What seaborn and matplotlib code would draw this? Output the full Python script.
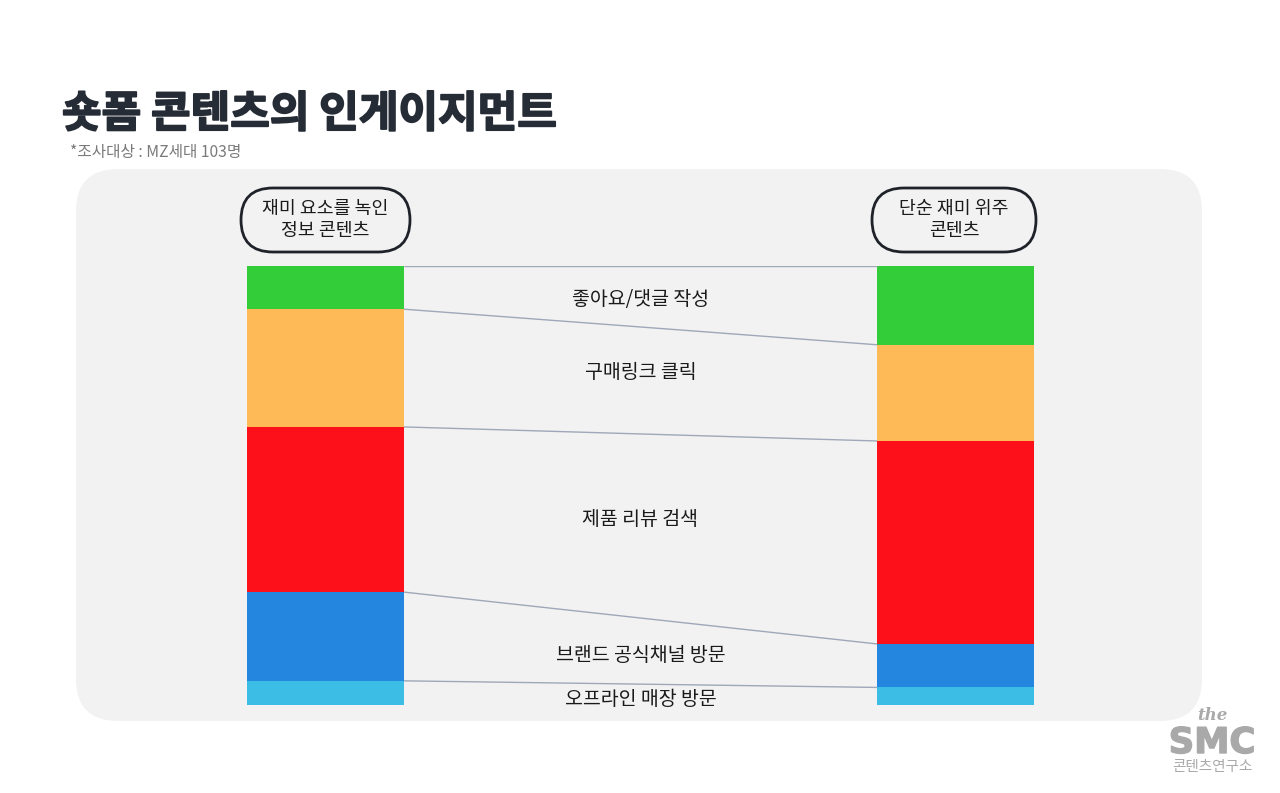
import numpy as np
import pandas as pd
import seaborn as sns
import matplotlib
matplotlib.use("Agg")
import matplotlib.pyplot as plt
import matplotlib.patheffects as pe
from matplotlib.patches import FancyBboxPatch

# ---------------- data ----------------
groups = ["재미 요소를 녹인\n정보 콘텐츠", "단순 재미 위주\n콘텐츠"]
segments = ["좋아요/댓글 작성", "구매링크 클릭", "제품 리뷰 검색", "브랜드 공식채널 방문", "오프라인 매장 방문"]
left_values = [9.9, 26.8, 37.6, 20.2, 5.5]      # 정보 콘텐츠 (%)
right_values = [18.0, 21.9, 46.2, 9.9, 4.0]     # 단순 재미 콘텐츠 (%)
colors = ["#34CD3A", "#FFBA58", "#FD101A", "#2486DF", "#3BBDE6"]
title = "숏폼 콘텐츠의 인게이지먼트"
subtitle = "*조사대상 : MZ세대 103명"

# ---------------- style ----------------
sns.set_theme(style="white")
plt.rcParams["font.family"] = ["Noto Sans CJK KR", "DejaVu Sans"]

W, H = 1280, 793
fig = plt.figure(figsize=(W / 100, H / 100), dpi=100)
fig.patch.set_facecolor("white")

# decoration axes in pixel coordinates
deco = fig.add_axes([0, 0, 1, 1], zorder=0)
deco.set_xlim(0, W)
deco.set_ylim(H, 0)
deco.axis("off")

panel = FancyBboxPatch((76, 169), 1202 - 76, 721 - 169,
                       boxstyle="round,pad=0,rounding_size=42",
                       facecolor="#F2F2F2", edgecolor="none")
deco.add_patch(panel)

deco.text(62, 114, title, fontsize=31, fontweight="black", color="#262C35",
          va="center", ha="left",
          path_effects=[pe.withStroke(linewidth=1.3, foreground="#262C35")])
deco.text(70, 152, subtitle, fontsize=11.3, color="#7A7A7A", va="center", ha="left",
          fontweight="light")

# pills
for (x0, x1), label in zip([(241, 410), (872, 1036)], groups):
    pill = FancyBboxPatch((x0, 188), x1 - x0, 64,
                          boxstyle="round,pad=0,rounding_size=32",
                          facecolor="#F2F2F2", edgecolor="#1F2329", linewidth=2.0)
    deco.add_patch(pill)
    deco.text((x0 + x1) / 2, 220, label, fontsize=13.2, color="#1A1A1A",
              ha="center", va="center", linespacing=1.3)

# logo
deco.text(1212, 716, "the", fontsize=12, family="DejaVu Serif", style="italic",
          fontweight="bold", color="#A9A9A9", ha="center", va="center")
deco.text(1212, 743, "SMC", fontsize=25.5, family="DejaVu Sans", fontweight="heavy",
          color="#A9A9A9", ha="center", va="center",
          path_effects=[pe.withStroke(linewidth=1.0, foreground="#A9A9A9")])
deco.text(1212, 767, "콘텐츠연구소", fontsize=10.5, color="#A9A9A9",
          ha="center", va="center")

# ---------------- bars ----------------
bar_w = 157 / 630
ax = fig.add_axes([247 / W, (H - 705) / H, 787 / W, 439.3 / H], zorder=1)
ax.patch.set_alpha(0)

vals = np.array([left_values, right_values])   # shape (2, 5)
tops = 100 - np.concatenate([np.zeros((2, 1)), np.cumsum(vals, axis=1)[:, :-1]], axis=1)

for i, seg in enumerate(segments):
    df = pd.DataFrame({"group": groups, "top": tops[:, i]})
    sns.barplot(data=df, x="group", y="top", order=groups, color=colors[i],
                saturation=1, width=bar_w, errorbar=None, linewidth=0, ax=ax)

ax.set_xlim(-bar_w / 2, 1 + bar_w / 2)
ax.set_ylim(0, 100)
ax.axis("off")

# connecting lines (top + inner boundaries)
for i in range(len(segments)):
    ax.plot([bar_w / 2, 1 - bar_w / 2], [tops[0, i], tops[1, i]],
            color="#9FA8B8", linewidth=1.0, solid_capstyle="butt")

# segment labels between the bars
bottoms = tops - vals
nudge_px = [3.5, -8, -6, 4, 5]
px_per_unit = 439.3 / 100
for i, seg in enumerate(segments):
    mid = (tops[:, i].mean() + bottoms[:, i].mean()) / 2 - nudge_px[i] / px_per_unit
    ax.text(0.5, mid, seg, fontsize=14, color="#1A1A1A", ha="center", va="center")

fig.savefig("out.png", dpi=100, facecolor="white")
